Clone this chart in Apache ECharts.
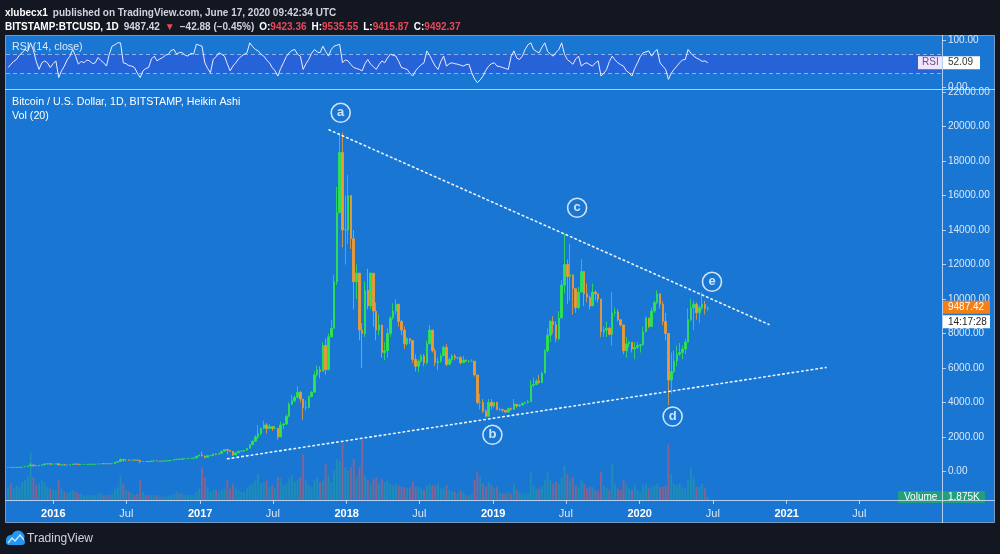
<!DOCTYPE html>
<html><head><meta charset="utf-8">
<script src="https://cdn.jsdelivr.net/npm/echarts@6/dist/echarts.min.js"></script>
<style>html,body{margin:0;padding:0;background:#131722;}#c{width:1000px;height:554px;}</style>
</head><body><div id="c"></div>
<script>
// ---------------- DATA ----------------
const weekStart = '2015-09-07';          // first weekly candle (Monday)
const firstOpen = 236;
const closes = [240,232,235,238,246,262,285,325,380,335,325,360,390,435,455,425,430,
450,380,385,375,375,395,435,430,410,412,415,415,418,422,428,445,455,452,455,445,450,535,580,700,660,670,650,665,660,655,580,585,580,575,610,625,605,600,605,615,640,655,690,710,705,740,740,765,770,780,890,960,
900,820,920,920,1020,1000,1050,1180,1270,1230,1170,960,1080,1180,1180,1230,1350,1550,1750,2000,2200,2500,2700,2500,2600,2500,2500,2000,2700,2750,3200,3900,4100,4300,4600,4200,3700,3700,4350,4600,5600,5900,5800,7300,5900,7800,8300,11000,15000,18500,14000,14000,
16000,13500,11000,11500,8200,8000,10500,9600,11500,9300,8200,8500,6900,7000,8000,8900,9300,9700,8700,8200,7400,7700,7600,6500,6100,6400,6700,6300,7400,8200,7000,6300,6400,6700,7200,6200,6500,6700,6600,6600,6300,6450,6400,6400,6400,5600,4000,4000,3500,3200,4000,3800,4000,
3600,3600,3550,3450,3650,3600,3900,3800,3850,3950,4000,4050,5000,5050,5250,5150,5700,7000,7900,8700,8500,7700,8900,10800,12000,11300,11400,10600,9500,10400,11600,10300,10100,9600,10400,10300,10000,8100,8200,8300,7950,9200,9250,8800,8500,7000,7400,7500,7100,7200,7300,7350,
8100,8900,8400,9300,9800,10300,9700,8700,8000,5300,5800,6400,6800,6900,7100,7500,8800,9500,9700,9200,9500,9700,9450,9487];
const highs = [245,240,240,240,248,270,290,330,500,390,340,365,400,465,470,465,435,
460,450,410,385,380,405,440,440,430,420,420,420,420,425,430,450,465,460,460,455,455,540,590,760,710,690,680,680,670,660,610,600,590,585,615,630,615,610,610,620,645,660,700,740,720,745,750,770,775,790,900,975,
1150,900,925,930,1030,1060,1060,1200,1290,1320,1250,1150,1100,1200,1220,1240,1360,1600,1800,2100,2700,2550,2950,2800,2750,2600,2650,2500,2900,2800,3300,4000,4450,4400,4950,4650,4200,4100,4400,4650,5800,6150,6100,7500,7700,8000,8800,11400,16500,19600,19666,16000,
17200,15000,14000,12000,11500,8600,11000,11750,11550,11500,9800,9100,8500,7500,8300,9000,9750,9990,9700,8800,8400,7800,7750,7600,6800,6500,6800,6800,7600,8500,8200,7150,6600,6850,7300,7400,6600,6800,6800,6650,6700,6700,6500,6450,6500,6400,5600,4500,4200,3600,4200,4200,4050,
4050,3700,3600,3550,3700,3700,4200,3900,3900,4000,4050,4150,5300,5450,5350,5600,5800,7100,8300,8800,9000,8700,9300,11100,13800,12300,13200,11000,10600,10700,12300,11600,10900,10200,10900,10500,10300,10000,8400,8700,8400,10400,9500,9400,8800,8500,7800,7600,7500,7500,7500,7400,
8400,9000,8900,9500,9900,10500,10300,9900,9200,8000,6900,7000,7300,7450,7300,7700,9450,10000,9900,9800,9600,10400,9900,9550];
const lows = [228,228,226,234,236,245,260,283,320,300,315,320,355,390,430,420,420,
425,360,370,365,365,370,395,405,400,400,405,410,410,415,418,425,440,445,448,435,440,450,535,580,560,620,610,640,650,645,480,575,570,570,570,600,600,595,600,605,612,635,650,680,690,700,730,735,760,765,780,880,
880,750,820,890,915,950,990,1050,1170,1000,1150,900,950,1070,1160,1170,1220,1340,1540,1750,1900,2100,2450,2200,2450,2350,2450,1850,2000,2450,2700,3150,3850,4000,4250,4000,3000,3550,3700,4300,4550,5500,5400,5900,5600,5900,7800,8300,10800,15000,13000,12000,
13200,12900,9400,10000,7600,6000,7800,9400,9400,8400,7600,7900,6600,6450,6600,7800,8800,9100,8400,7900,7100,7300,7400,6300,5800,5750,6300,6100,6200,7400,6900,6100,5880,6300,6700,6100,6200,6300,6450,6500,6200,6300,6350,6300,6350,5500,3900,3600,3400,3150,3200,3600,3700,
3550,3500,3450,3400,3400,3550,3600,3700,3750,3850,3950,3950,4050,4900,5000,5100,5200,5700,6900,7500,8000,7500,7600,8900,10300,9700,9900,9100,9200,9400,10400,9600,9800,9400,9600,9900,9800,7800,7800,7800,7900,7300,9000,8700,8400,6800,6600,7200,6900,6500,7100,6900,
7300,8100,8300,8400,9200,9700,9450,8500,7600,3850,4500,5700,6100,6700,6500,6800,7600,8700,8200,8800,8600,9350,9100,9300];
const volumesK = [8,10,7,9,8,11,12,15,29,14,9,10,12,11,8,7,6,
6,12,7,5,4,5,6,5,4,4,3,3,3,3,3,4,4,3,3,3,4,7,8,15,10,6,5,4,3,4,12,5,3,3,3,3,3,2,2,2,3,3,4,5,4,4,3,3,3,3,5,7,
20,14,8,5,6,6,5,6,7,12,7,10,7,6,5,5,7,9,10,12,16,10,11,12,8,9,7,14,13,9,10,13,15,11,12,14,28,12,9,8,12,14,11,12,22,15,11,18,25,24,35,20,
18,20,25,14,20,37,15,12,10,13,14,10,13,11,12,10,9,10,9,8,8,7,7,11,8,8,7,6,9,10,9,9,10,7,7,9,6,5,5,4,6,5,3,3,4,12,17,14,10,8,11,9,7,
8,5,4,4,5,4,10,6,5,4,4,4,17,9,7,7,8,12,17,12,10,11,10,14,21,16,13,14,9,8,12,10,7,8,8,6,5,17,9,7,6,22,10,7,6,12,10,7,6,10,6,5,
9,10,7,8,9,10,8,8,9,34,16,10,9,10,8,7,12,20,14,8,8,10,7,1.875];
const rsiValues = [42,49,55,59,68,73,80,76,94,78,55,38,52,56,52,42,50,56,21,35,
45,58,66,80,66,49,55,52,58,56,50,52,63,57,52,45,70,87,90,94,
94,52,50,46,45,42,30,21,35,40,42,60,66,56,60,63,68,70,78,80,
70,74,73,68,66,72,70,91,89,87,52,40,31,59,65,73,70,66,50,35,
45,52,60,66,70,73,94,86,80,77,70,66,58,52,42,35,24,40,52,65,
73,78,80,70,66,38,50,59,72,80,75,73,87,76,66,80,87,89,91,52,
58,56,48,42,40,38,35,50,59,49,44,38,48,56,52,62,70,68,66,55,
42,40,38,30,24,35,42,48,52,77,68,56,45,38,55,66,45,50,52,50,
49,47,45,48,49,31,18,10,16,24,36,45,50,52,45,44,42,40,38,65,
77,62,59,66,80,90,94,80,76,73,85,94,76,70,66,74,80,94,70,59,
54,49,60,66,45,50,52,48,45,52,56,24,30,38,55,66,58,52,48,45,
35,31,24,40,52,65,73,75,77,66,75,80,52,45,38,17,30,38,45,52,
58,59,80,72,66,62,59,55,56,52];
const xTickDates = ['2016-01-01','2016-07-01','2017-01-01','2017-07-01','2018-01-01','2018-07-01','2019-01-01','2019-07-01','2020-01-01','2020-07-01','2021-01-01','2021-07-01'];
const xTickLabels = ['2016','Jul','2017','Jul','2018','Jul','2019','Jul','2020','Jul','2021','Jul'];
const priceTicks = [0,2000,4000,6000,8000,10000,12000,14000,16000,18000,20000,22000];
const rsiTicks = [0,100];
const waveLetters = ['a','b','c','d','e'];
const waveDates = ['2017-12-17','2018-12-30','2019-07-29','2020-03-23','2020-06-29'];
const wavePrices = [20794,2128,15287,3188,10997];
const upperTrendDates = ['2017-11-18','2020-11-18'];
const upperTrendPrices = [19809,8522];
const lowerTrendDates = ['2017-03-10','2021-04-09'];
const lowerTrendPrices = [736,6029];
const lastPrice = 9487.42, lastRsi = 52.09, lastVolumeK = 1.875, countdown = '14:17:28';
const axisStart = '2015-09-05T04:48:00Z', axisEnd = '2022-01-23T00:00:00Z';

// ---------------- BUILD ----------------
const DAY = 864e5;
const t0 = Date.parse(weekStart);
const weekTs = closes.map((_, i) => t0 + (7 * i + 3.5) * DAY);
const xMin = Date.parse(axisStart), xMax = Date.parse(axisEnd);
const xTickTs = xTickDates.map(d => Date.parse(d));
const UP = '#2ee64a', DOWN = '#f39a2e';
const candleData = [], volData = [];
closes.forEach((c, i) => {
  const o = i === 0 ? firstOpen : closes[i - 1];
  const h = Math.max(highs[i], o, c), l = Math.min(lows[i], o, c);
  candleData.push([weekTs[i], o, c, l, h]);
  volData.push({ value: [weekTs[i], volumesK[i]], itemStyle: { color: c >= o ? 'rgba(38,166,154,0.5)' : 'rgba(239,83,80,0.5)' } });
});
const rsiData = rsiValues.map((v, i) => [weekTs[i], v]);

const chart = echarts.init(document.getElementById('c'));
const lineCol = 'rgba(214,230,250,0.8)';
const labCol = '#dbe8f7';
const FONT = '"Liberation Sans", Arial, sans-serif';
const xLabelFor = v => { let k = 0, best = Infinity; xTickTs.forEach((t, i) => { const d = Math.abs(t - v); if (d < best) { best = d; k = i; } }); return xTickLabels[k]; };

const hdr = { b: { color: '#ffffff', fontWeight: 'bold', fontSize: 10, fontFamily: FONT }, n: { color: '#d1d4dc', fontSize: 10, fontFamily: FONT }, r: { color: '#e8485a', fontSize: 10, fontFamily: FONT } };
const option = {
  backgroundColor: '#131722',
  animation: false,
  textStyle: { fontFamily: FONT },
  title: [
    { left: 5, top: 4, padding: 0,
      text: '{b|xlubecx1} {n|published on TradingView.com, June 17, 2020 09:42:34 UTC}',
      textStyle: { rich: hdr } },
    { left: 5, top: 18, padding: 0,
      text: '{b|BITSTAMP:BTCUSD, 1D} {n|9487.42} {r|▼} {n|−42.88 (−0.45%)} {b|O:}{r|9423.36} {b|H:}{r|9535.55} {b|L:}{r|9415.87} {b|C:}{r|9492.37}',
      textStyle: { rich: hdr } },
    { left: 12, top: 42, padding: 0, text: 'RSI (14, close)', textStyle: { color: 'rgba(255,255,255,0.85)', fontSize: 10.7, fontWeight: 'normal', fontFamily: FONT } },
    { left: 12, top: 97, padding: 0, text: 'Bitcoin / U.S. Dollar, 1D, BITSTAMP, Heikin Ashi', textStyle: { color: '#ffffff', fontSize: 10.7, fontWeight: 'normal', fontFamily: FONT } },
    { left: 12, top: 111, padding: 0, text: 'Vol (20)', textStyle: { color: '#ffffff', fontSize: 10.7, fontWeight: 'normal', fontFamily: FONT } }
  ],
  grid: [
    { left: 6, right: 58, top: 35, height: 54 },
    { left: 6, right: 58, top: 90, bottom: 54 }
  ],
  xAxis: [
    { type: 'value', gridIndex: 0, min: xMin, max: xMax, show: false },
    { type: 'value', gridIndex: 1, min: xMin, max: xMax, position: 'bottom',
      axisLine: { show: false, onZero: false },
      splitLine: { show: false },
      axisTick: { show: true, customValues: xTickTs, length: 4, lineStyle: { color: lineCol } },
      axisLabel: { customValues: xTickTs, margin: 8, color: labCol, fontSize: 11,
        formatter: v => { const s = xLabelFor(v); return /^\d+$/.test(s) ? '{y|' + s + '}' : '{m|' + s + '}'; },
        rich: { y: { color: '#ffffff', fontWeight: 'bold', fontSize: 11, fontFamily: FONT }, m: { color: labCol, fontSize: 11, fontFamily: FONT } } } }
  ],
  yAxis: [
    { type: 'value', gridIndex: 0, position: 'right', min: -3.2, max: 110.5,
      axisLine: { show: false, onZero: false }, splitLine: { show: false },
      axisTick: { show: true, customValues: rsiTicks, length: 4, lineStyle: { color: lineCol } },
      axisLabel: { customValues: rsiTicks, margin: 6, color: labCol, fontSize: 10, formatter: v => v.toFixed(2) } },
    { type: 'value', gridIndex: 1, position: 'right', min: -1652, max: 22116,
      axisLine: { show: false, onZero: false }, splitLine: { show: false },
      axisTick: { show: true, customValues: priceTicks, length: 4, lineStyle: { color: lineCol } },
      axisLabel: { customValues: priceTicks, margin: 6, color: labCol, fontSize: 10, formatter: v => v.toFixed(2) } },
    { type: 'value', gridIndex: 1, min: 0, max: 250, show: false }
  ],
  series: [
    { name: 'RSI', type: 'line', xAxisIndex: 0, yAxisIndex: 0, data: rsiData, symbol: 'none',
      lineStyle: { color: '#f0ecff', width: 1 }, z: 5,
      markArea: { silent: true, itemStyle: { color: 'rgba(80,45,240,0.25)' }, data: [[{ yAxis: 30 }, { yAxis: 70 }]] },
      markLine: { silent: true, symbol: 'none', label: { show: false },
        lineStyle: { color: 'rgba(230,235,255,0.55)', type: [4, 3], width: 1 }, data: [{ yAxis: 70 }, { yAxis: 30 }] } },
    { name: 'Volume', type: 'bar', xAxisIndex: 1, yAxisIndex: 2, data: volData, barWidth: 2, z: 1 },
    { name: 'BTCUSD', type: 'candlestick', xAxisIndex: 1, yAxisIndex: 1, data: candleData, barWidth: 2, z: 4,
      itemStyle: { color: UP, color0: DOWN, borderColor: UP, borderColor0: DOWN, borderWidth: 0.8 } },
    { name: 'Upper trend', type: 'line', xAxisIndex: 1, yAxisIndex: 1, symbol: 'none', z: 6,
      data: upperTrendDates.map((d, i) => [Date.parse(d), upperTrendPrices[i]]),
      lineStyle: { color: 'rgba(255,255,255,0.92)', width: 1.6, type: [1.6, 3.2], cap: 'round' } },
    { name: 'Lower trend', type: 'line', xAxisIndex: 1, yAxisIndex: 1, symbol: 'none', z: 6,
      data: lowerTrendDates.map((d, i) => [Date.parse(d), lowerTrendPrices[i]]),
      lineStyle: { color: 'rgba(255,255,255,0.92)', width: 1.6, type: [1.6, 3.2], cap: 'round' } },
    { name: 'Waves', type: 'scatter', xAxisIndex: 1, yAxisIndex: 1, symbol: 'circle', symbolSize: 19, z: 7,
      data: waveLetters.map((s, i) => ({ value: [Date.parse(waveDates[i]), wavePrices[i]], name: s })),
      itemStyle: { color: 'rgba(0,0,0,0)', borderColor: '#ffffff', borderWidth: 1.6 },
      label: { show: true, position: 'inside', formatter: p => p.name, color: '#ffffff', fontWeight: 'bold', fontSize: 13, fontFamily: FONT } }
  ]
};
chart.setOption(option);

// right-side value markers positioned from data through the axes
const yP = chart.convertToPixel({ yAxisIndex: 1 }, lastPrice);
const yR = chart.convertToPixel({ yAxisIndex: 0 }, lastRsi);
const yV = chart.convertToPixel({ yAxisIndex: 2 }, lastVolumeK);
const txt = (x, y, s, col, size) => ({ type: 'text', x: x, y: y, z: 60, style: { text: s, fill: col, font: (size || 10) + 'px ' + FONT, verticalAlign: 'middle' } });
const graphics = [
  { type: 'rect', z: -100, shape: { x: 5.5, y: 35.5, width: 989, height: 487 }, style: { fill: '#1976d2', stroke: 'rgba(200,222,250,0.55)', lineWidth: 1 } },
  { type: 'line', z: 50, shape: { x1: 5, y1: 89.5, x2: 995, y2: 89.5 }, style: { stroke: lineCol, lineWidth: 1 } },
  { type: 'line', z: 50, shape: { x1: 5, y1: 500.5, x2: 995, y2: 500.5 }, style: { stroke: lineCol, lineWidth: 1 } },
  { type: 'line', z: 50, shape: { x1: 942.5, y1: 35, x2: 942.5, y2: 523 }, style: { stroke: lineCol, lineWidth: 1 } },
  { type: 'rect', z: 55, shape: { x: 918, y: yR - 6.5, width: 24, height: 13 }, style: { fill: '#f2e6fb' } },
  txt(922, yR, 'RSI', '#6f4a8e'),
  { type: 'rect', z: 55, shape: { x: 943, y: yR - 6.5, width: 37, height: 13 }, style: { fill: '#ffffff' } },
  txt(948, yR, lastRsi.toFixed(2), '#333333'),
  { type: 'rect', z: 55, shape: { x: 943, y: yP - 7, width: 47, height: 13 }, style: { fill: '#f57f17' } },
  txt(948, yP - 0.5, lastPrice.toFixed(2), '#ffffff'),
  { type: 'rect', z: 55, shape: { x: 943, y: yP + 7.5, width: 47, height: 13 }, style: { fill: '#ffffff' } },
  txt(948, yP + 14, countdown, '#222222'),
  { type: 'rect', z: 45, shape: { x: 898, y: yV - 6, width: 87, height: 12 }, style: { fill: '#22a07e' } },
  txt(904, yV, 'Volume', '#ffffff'),
  txt(948, yV, lastVolumeK.toFixed(3) + 'K', '#ffffff'),
  { type: 'circle', z: 20, shape: { cx: 11, cy: 540, r: 5 }, style: { fill: '#2196f3' } },
  { type: 'circle', z: 20, shape: { cx: 18, cy: 537, r: 6.5 }, style: { fill: '#2196f3' } },
  { type: 'rect', z: 20, shape: { x: 6, y: 539, width: 19, height: 6, r: 3 }, style: { fill: '#2196f3' } },
  { type: 'polyline', z: 21, shape: { points: [[8, 543], [12, 538], [15, 541], [20, 535], [24, 540]] }, style: { stroke: '#cfe6ff', lineWidth: 1.3, fill: null } },
  txt(27, 539, 'TradingView', '#d1d4dc', 12)
];
chart.setOption({ graphic: graphics });
</script></body></html>
